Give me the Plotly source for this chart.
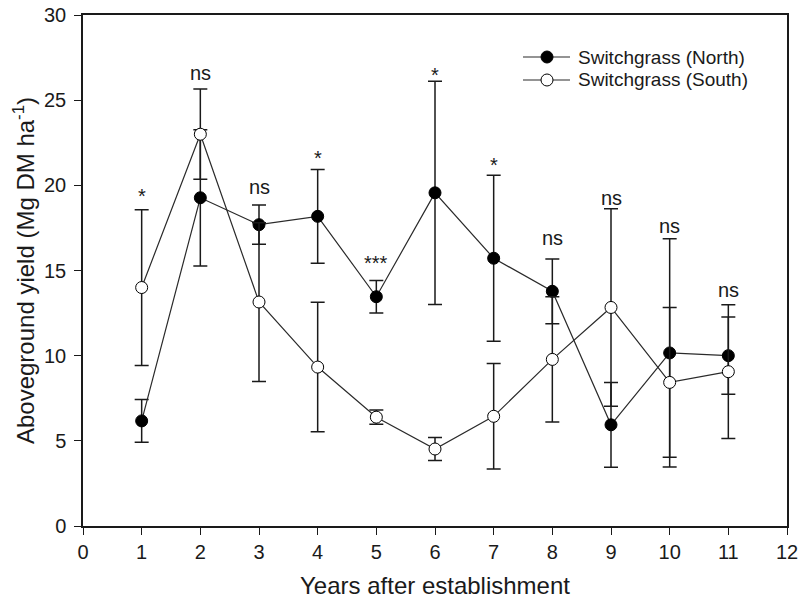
import plotly.graph_objects as go

years = [1, 2, 3, 4, 5, 6, 7, 8, 9, 10, 11]
north_yield = [6.17, 19.27, 17.69, 18.18, 13.46, 19.56, 15.72, 13.78, 5.94, 10.16, 10.0]
north_err = [1.25, 4.0, 1.15, 2.75, 0.96, 6.55, 4.87, 1.9, 2.49, 6.7, 2.27]
south_yield = [14.0, 23.0, 13.15, 9.33, 6.39, 4.52, 6.44, 9.78, 12.83, 8.43, 9.06]
south_err = [4.57, 2.65, 4.66, 3.8, 0.42, 0.68, 3.1, 3.68, 5.8, 4.4, 3.93]
sig_labels = ["*", "ns", "ns", "*", "***", "*", "*", "ns", "ns", "ns", "ns"]
sig_y = [19.35, 26.6, 19.92, 21.6, 15.45, 26.5, 21.2, 16.89, 19.26, 17.6, 13.83]
series_names = ["Switchgrass (North)", "Switchgrass (South)"]
series_fill = ["black", "white"]

font_family = "Liberation Sans, Arial, sans-serif"
ink = "#1a1a1a"
line_col = "#2a2a2a"

fig = go.Figure()
for name, vals, errs, fill in zip(series_names, [north_yield, south_yield],
                                  [north_err, south_err], series_fill):
    fig.add_trace(go.Scatter(
        x=years, y=vals, mode="lines+markers", name=name, showlegend=False,
        line=dict(color=line_col, width=1.2),
        marker=dict(symbol="circle", size=12, color=fill, line=dict(color="black", width=1)),
        error_y=dict(type="data", array=errs, visible=True, color=ink, thickness=1.5, width=7),
    ))

for x, lab, y in zip(years, sig_labels, sig_y):
    fig.add_annotation(x=x, y=y, text=lab, showarrow=False, xref="x", yref="y",
                       yanchor="middle", xanchor="center",
                       font=dict(size=20, color=ink, family=font_family))

# hand-drawn legend (paper coordinates)
leg_rows = [0.9178, 0.8728]
leg_x0, leg_x1, leg_mx, leg_tx = 0.625, 0.6918, 0.6591, 0.7003
for name, fill, ry in zip(series_names, series_fill, leg_rows):
    fig.add_shape(type="line", xref="paper", yref="paper", x0=leg_x0, x1=leg_x1,
                  y0=ry, y1=ry, line=dict(color=line_col, width=1.2))
    fig.add_shape(type="circle", xref="paper", yref="paper",
                  xsizemode="pixel", ysizemode="pixel", xanchor=leg_mx, yanchor=ry,
                  x0=-6, x1=6, y0=-6, y1=6, fillcolor=fill, line=dict(color="black", width=1))
    fig.add_annotation(x=leg_tx, y=ry, xref="paper", yref="paper", text=name,
                       showarrow=False, xanchor="left", yanchor="middle",
                       font=dict(size=19, color=ink, family=font_family))

fig.update_layout(
    width=800, height=603,
    margin=dict(l=83, r=13, t=15, b=77, autoexpand=False),
    plot_bgcolor="white", paper_bgcolor="white",
    font=dict(family=font_family, color=ink, size=20),
    showlegend=False,
)
fig.update_xaxes(range=[0, 12], tickmode="array", tickvals=list(range(0, 13)),
                 ticks="outside", ticklen=7, tickwidth=1.2, tickcolor=ink,
                 showline=True, linecolor=ink, linewidth=1.5, mirror=True,
                 showgrid=False, zeroline=False, automargin=False,
                 tickfont=dict(size=20),
                 title=dict(text="Years after establishment", font=dict(size=24), standoff=15))
fig.update_yaxes(range=[0, 30], tickmode="array", tickvals=[0, 5, 10, 15, 20, 25, 30],
                 ticks="outside", ticklen=7, tickwidth=1.2, tickcolor=ink,
                 showline=True, linecolor=ink, linewidth=1.5, mirror=True,
                 showgrid=False, zeroline=False, automargin=False,
                 tickfont=dict(size=20), ticklabelstandoff=4,
                 title=dict(text="Aboveground yield (Mg DM ha<sup>-1</sup>)", font=dict(size=24), standoff=3))

fig.write_html("out.html", config={"displayModeBar": False},
               post_script="document.body.style.margin='0';document.body.style.overflow='hidden';")
